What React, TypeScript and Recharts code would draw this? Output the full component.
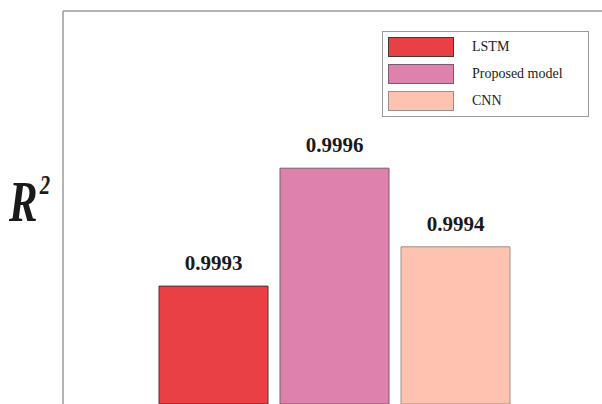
import { BarChart, Bar, XAxis, YAxis, Legend, LabelList, ReferenceLine } from "recharts";

const models = ["LSTM", "Proposed model", "CNN"];
const r2Values = [0.9993, 0.9996, 0.9994];
const fills = ["#e84044", "#de82ad", "#fec3b0"];
const strokes = ["#4a3434", "#7a5c6c", "#9e8e88"];

const data = [
  models.reduce<Record<string, number | string>>(
    (row, m, i) => {
      row[m] = r2Values[i];
      return row;
    },
    { name: "R2" }
  ),
];

const serif = "'Liberation Serif', 'Times New Roman', serif";

function LegendBox() {
  return (
    <div
      style={{
        width: 205,
        height: 84,
        border: "1px solid #9a9a9a",
        background: "#fff",
        fontFamily: serif,
        fontSize: 14,
        color: "#222",
        position: "relative",
      }}
    >
      {models.map((m, i) => (
        <div key={m} style={{ position: "absolute", left: 5, top: 5 + i * 27, display: "flex", alignItems: "center" }}>
          <div style={{ width: 64, height: 18, background: fills[i], border: `1px solid ${strokes[i]}` }} />
          <span style={{ marginLeft: 18 }}>{m}</span>
        </div>
      ))}
    </div>
  );
}

// R² as one text element, squeezed horizontally like the original
function R2Label() {
  return (
    <text
      transform="translate(9 221) scale(0.74 1)"
      fontFamily={serif}
      fontWeight="bold"
      fontStyle="italic"
      fontSize={58}
      fill="#1a1a1a"
    >
      R
      <tspan dx={3} dy={-27} fontSize={28}>
        2
      </tspan>
    </text>
  );
}

export default function App() {
  return (
    <div style={{ position: "absolute", left: 0, top: 0, width: 602, height: 404, overflow: "hidden", background: "#fff" }}>
      <BarChart
        width={605}
        height={420}
        data={data}
        margin={{ top: 11, right: 0, bottom: 16, left: 1 }}
        barGap={12}
        barSize={109}
        barCategoryGap={0}
      >
        <XAxis dataKey="name" hide />
        <YAxis
          type="number"
          domain={[0.999, 1]}
          allowDataOverflow
          width={62}
          tick={false}
          tickLine={false}
          axisLine={{ stroke: "#9a9a9a", strokeWidth: 1.5 }}
          label={{ content: () => <R2Label /> }}
        />
        <ReferenceLine y={1} stroke="#9a9a9a" strokeWidth={1.5} />
        <Legend
          layout="horizontal"
          verticalAlign="middle"
          content={() => <LegendBox />}
          wrapperStyle={{ position: "absolute", top: 31, left: 382, width: 207, height: 86 }}
        />
        {models.map((m, i) => (
          <Bar key={m} dataKey={m} fill={fills[i]} stroke={strokes[i]} strokeWidth={1} isAnimationActive={false}>
            <LabelList
              dataKey={m}
              position="top"
              offset={16}
              formatter={(v: any) => Number(v).toFixed(4)}
              style={{ fontFamily: serif, fontWeight: "bold", fontSize: 21, fill: "#1a1a1a" }}
            />
          </Bar>
        ))}
      </BarChart>
    </div>
  );
}
